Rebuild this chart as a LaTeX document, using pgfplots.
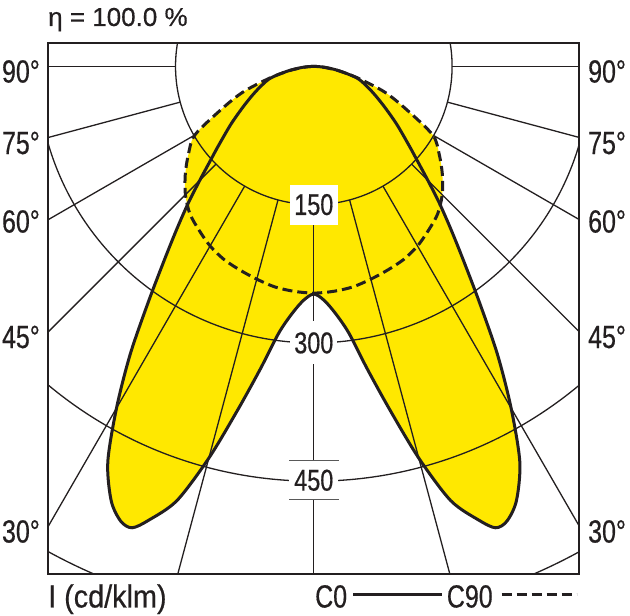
\documentclass[border=0pt]{standalone}
\usepackage{pgfplots}
\usepackage{pgfplotstable}
\pgfplotsset{compat=1.18}
\usepgfplotslibrary{polar}
\usepackage{fontspec}
\setmainfont{Liberation Sans}[FakeBold=0.4]
\newfontfamily\cond{Liberation Sans}[FakeStretch=0.78, FakeBold=0.5]
\newfontfamily\condw{Liberation Sans}[FakeStretch=0.9, FakeBold=0.5]
\definecolor{lyel}{RGB}{255,232,0}
\definecolor{ink}{RGB}{35,31,32}

% C0 / C180 plane: polar angle (deg, 0 = right, -90 = down) and I in cd/klm
\pgfplotstableread{
phi r
-180 0
-175 12
-170 28
-165 48
-160 60
-155 73
-150 89
-145 110
-140 136
-137.5 153
-135 175
-132.5 202
-130 232
-127.5 268
-125 314
-122.5 371
-120 428
-117.5 484
-115 520
-113 536
-111.5 538
-110 524
-107.5 494
-105 440
-102.5 382
-100 333
-97.5 292
-95 269
-92.5 254
-90 247
-87.5 254
-85 269
-82.5 292
-80 333
-77.5 382
-75 440
-72.5 494
-70 524
-68.5 538
-67 536
-65 520
-62.5 484
-60 428
-57.5 371
-55 314
-52.5 268
-50 232
-47.5 202
-45 175
-42.5 153
-40 136
-35 110
-30 89
-25 73
-20 60
-15 48
-10 28
-5 12
0 0
}\czero

% C90 / C270 plane
\pgfplotstableread{
phi r
-180 0
-175 10
-170 27
-165 50
-160 82
-155 111
-150 149
-145 166
-140 182
-135 197
-130 209
-125 217
-120 225
-115 231
-110 235
-105 239
-100 243
-95 245
-90 246
-85 245
-80 243
-75 239
-70 235
-65 231
-60 225
-55 217
-50 209
-45 197
-40 182
-35 166
-30 149
-25 111
-20 82
-15 50
-10 27
-5 10
0 0
}\cninety

\begin{document}
\begin{tikzpicture}[x=1pt,y=1pt]
\useasboundingbox (0,0) rectangle (630,616);
\begin{axis}[
  at={(48.3pt,41.7pt)}, anchor=south west,
  scale only axis, width=531pt, height=531pt,
  xmin=-288, xmax=288, ymin=-551, ymax=25,
  xtick=\empty, ytick=\empty,
  axis line style={line width=2pt, ink},
  clip=true,
]
% yellow areas
\addplot[fill=lyel, draw=none, smooth, data cs=polar, forget plot] table[x=phi,y=r] {\cninety};
\addplot[fill=lyel, draw=none, smooth, data cs=polar, forget plot] table[x=phi,y=r] {\czero};

% grid: arcs and radial lines
\draw[ink, line width=1.3pt] (axis cs:0,0) circle[radius=150];
\draw[ink, line width=1.3pt] (axis cs:0,0) circle[radius=300];
\draw[ink, line width=1.3pt] (axis cs:0,0) circle[radius=450];
\draw[ink, line width=1.3pt] (axis cs:0,0) circle[radius=600];
\pgfplotsinvokeforeach{-180,-165,-150,-135,-120,-105,-90,-75,-60,-45,-30,-15,0}{
  \addplot[ink, line width=1.3pt, data cs=polar, forget plot] coordinates {(#1,150) (#1,1000)};
}

% curves
\addplot[ink, line width=3pt, dash pattern=on 10pt off 5pt, smooth, data cs=polar, forget plot] table[x=phi,y=r] {\cninety};
\addplot[ink, line width=3pt, smooth, data cs=polar, forget plot] table[x=phi,y=r] {\czero};

% intensity labels
\node[fill=white, inner sep=0pt, minimum width=48pt, minimum height=40pt,
      font=\cond\fontsize{30}{30}\selectfont, text=ink] at (axis cs:0,-150) {150};
\node[fill=white, inner sep=0pt, minimum width=47pt, minimum height=43pt,
      font=\cond\fontsize{30}{30}\selectfont, text=ink] at (axis cs:0,-300) {300};
\node[fill=white, inner sep=0pt, minimum width=49pt, minimum height=38.6pt,
      font=\cond\fontsize{30}{30}\selectfont, text=ink] (l450) at (axis cs:0,-449) {450};
\draw[black!65, line width=0.8pt] (l450.north west) -- (l450.north east);
\draw[black!65, line width=0.8pt] (l450.south west) -- (l450.south east);
\end{axis}

% title
\node[anchor=base west, inner sep=0pt, text=ink, font=\fontsize{26}{26}\selectfont] at (48,590) {η = 100.0 \%};

% angle labels
\begin{scope}[every node/.style={inner sep=0pt, text=ink, font=\cond\fontsize{32}{32}\selectfont}]
\node[anchor=east] at (40,544.5) {90°};
\node[anchor=east] at (40,473) {75°};
\node[anchor=east] at (40,394.5) {60°};
\node[anchor=east] at (40,279) {45°};
\node[anchor=east] at (40,84.5) {30°};
\node[anchor=west] at (588,544.5) {90°};
\node[anchor=west] at (588,473) {75°};
\node[anchor=west] at (588,394.5) {60°};
\node[anchor=west] at (588,279) {45°};
\node[anchor=west] at (588,84.5) {30°};
% bottom line
\node[anchor=base west, font=\condw\fontsize{32}{32}\selectfont] at (48,8.5) {I (cd/klm)};
\node[anchor=base west] at (315,8.5) {C0};
\node[anchor=base west] at (446.7,8.5) {C90};
\end{scope}
\draw[ink, line width=3pt] (353,21.7) -- (441.7,21.7);
\draw[ink, line width=3pt, dash pattern=on 10pt off 5pt] (501.7,21.7) -- (576.7,21.7);
\end{tikzpicture}
\end{document}
